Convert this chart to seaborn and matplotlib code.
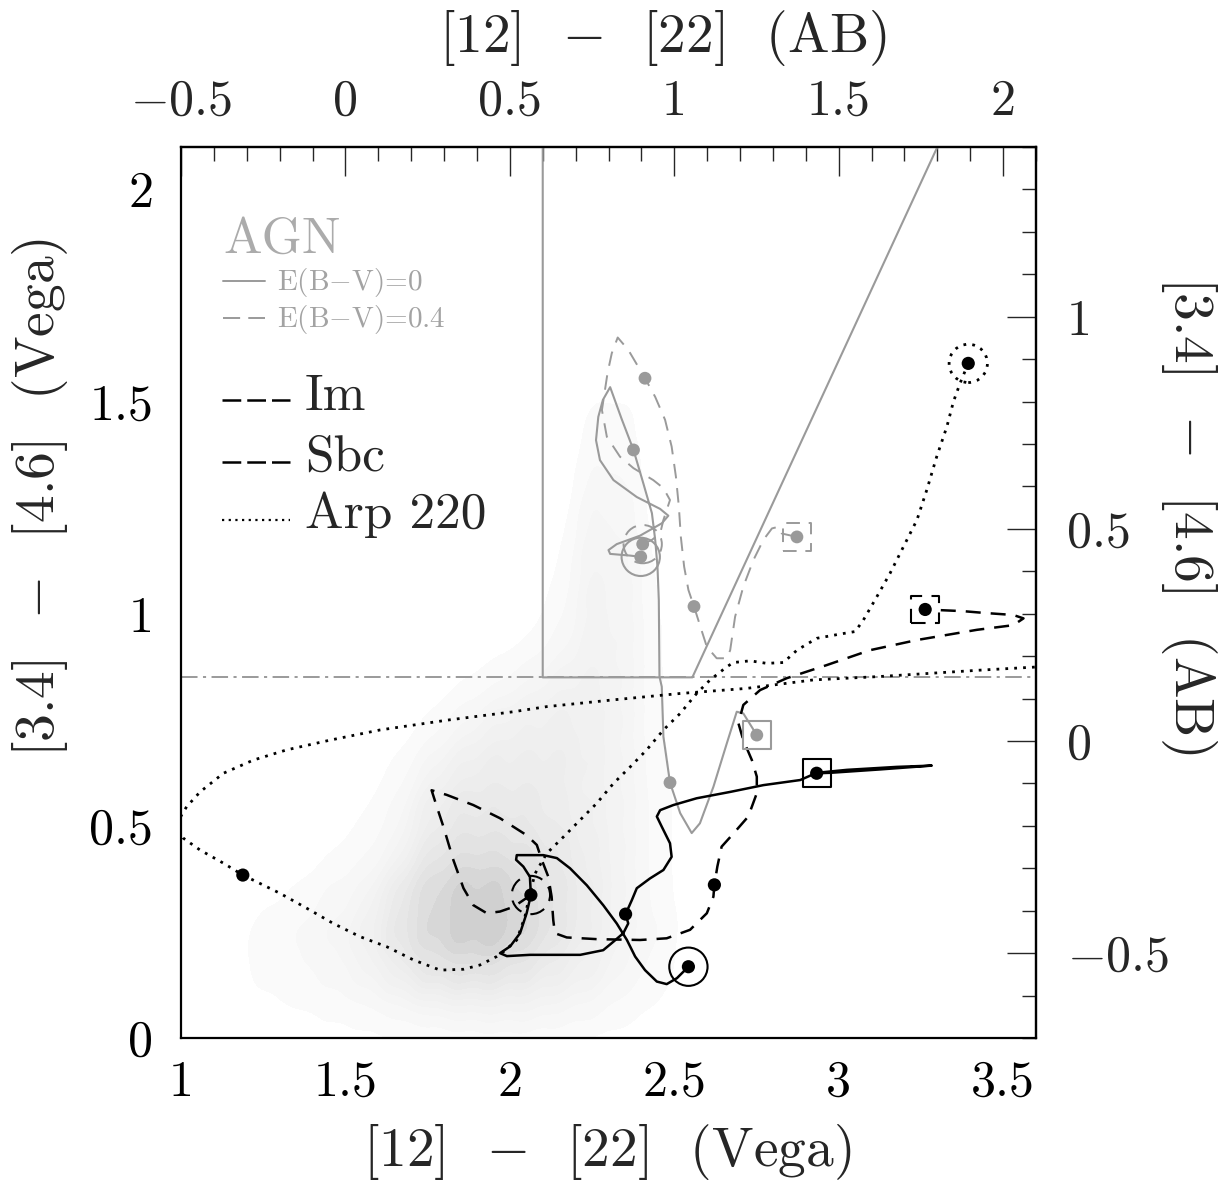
import numpy as np
import pandas as pd
import matplotlib
matplotlib.use("Agg")
import matplotlib.pyplot as plt
from matplotlib.colors import LinearSegmentedColormap
from matplotlib.ticker import MultipleLocator
import seaborn as sns

# ---------------- data ----------------
# AGN track, E(B-V)=0 (grey solid)
agn0_x = [2.398, 2.366, 2.305, 2.300, 2.325, 2.396, 2.462, 2.482, 2.457, 2.386, 2.315,
          2.274, 2.262, 2.269, 2.283, 2.305, 2.340, 2.376, 2.406, 2.432, 2.442, 2.449,
          2.453, 2.455, 2.462, 2.467, 2.487, 2.518, 2.553, 2.578, 2.619, 2.660, 2.690,
          2.710, 2.751]
agn0_y = [1.134, 1.137, 1.141, 1.150, 1.164, 1.184, 1.213, 1.231, 1.247, 1.275, 1.315,
          1.362, 1.409, 1.464, 1.504, 1.534, 1.459, 1.386, 1.307, 1.237, 1.174, 1.110,
          1.032, 0.852, 0.828, 0.710, 0.602, 0.530, 0.483, 0.506, 0.592, 0.695, 0.769,
          0.765, 0.714]
agn0_dots_x = [2.376, 2.487]
agn0_dots_y = [1.386, 0.602]

# AGN track, E(B-V)=0.4 (grey dashed)
agn4_x = [2.404, 2.432, 2.457, 2.467, 2.487, 2.467, 2.436, 2.376, 2.335, 2.295, 2.280,
          2.297, 2.310, 2.328, 2.360, 2.411, 2.442, 2.472, 2.492, 2.505, 2.514, 2.520,
          2.530, 2.543, 2.560, 2.578, 2.599, 2.629, 2.660, 2.670, 2.685, 2.710, 2.741,
          2.771, 2.797, 2.817, 2.827, 2.873]
agn4_y = [1.164, 1.174, 1.189, 1.221, 1.268, 1.296, 1.315, 1.343, 1.370, 1.417, 1.480,
          1.567, 1.614, 1.651, 1.622, 1.555, 1.511, 1.457, 1.394, 1.323, 1.252, 1.181,
          1.111, 1.056, 1.017, 0.973, 0.922, 0.895, 0.895, 0.914, 0.993, 1.064, 1.127,
          1.174, 1.201, 1.205, 1.189, 1.181]
agn4_dots_x = [2.411, 2.560]
agn4_dots_y = [1.555, 1.017]

# Im template track (black solid)
im_x = [2.543, 2.508, 2.477, 2.447, 2.411, 2.381, 2.356, 2.325, 2.284, 2.234, 2.183,
        2.143, 2.102, 2.021, 2.019, 2.041, 2.061, 2.064, 2.051, 2.031, 2.001, 1.970,
        1.991, 2.061, 2.214, 2.284, 2.315, 2.345, 2.360, 2.352, 2.371, 2.386, 2.426,
        2.467, 2.492, 2.487, 2.462, 2.447, 2.457, 2.497, 2.568, 2.670, 2.771, 2.883,
        2.933, 3.025, 3.177, 3.283, 3.126, 2.974, 2.933]
im_y = [0.168, 0.141, 0.127, 0.133, 0.160, 0.192, 0.231, 0.270, 0.313, 0.360, 0.400,
        0.424, 0.431, 0.431, 0.420, 0.404, 0.380, 0.337, 0.294, 0.247, 0.216, 0.200,
        0.193, 0.196, 0.196, 0.207, 0.227, 0.247, 0.270, 0.292, 0.325, 0.353, 0.376,
        0.396, 0.427, 0.459, 0.498, 0.522, 0.537, 0.549, 0.565, 0.580, 0.596, 0.608,
        0.625, 0.632, 0.639, 0.642, 0.633, 0.625, 0.624]
im_dots_x = [2.352]
im_dots_y = [0.292]

# Sbc template track (black dashed)
sbc_x = [2.064, 2.011, 1.970, 1.930, 1.889, 1.859, 1.828, 1.798, 1.778, 1.762, 1.808,
         1.889, 1.970, 2.051, 2.082, 2.097, 2.117, 2.127, 2.132, 2.137, 2.173, 2.264,
         2.396, 2.477, 2.548, 2.599, 2.619, 2.622, 2.631, 2.644, 2.680, 2.725, 2.751,
         2.751, 2.736, 2.710, 2.695, 2.710, 2.761, 2.842, 2.964, 3.095, 3.238, 3.420,
         3.531, 3.562, 3.531, 3.440, 3.379, 3.263]
sbc_y = [0.337, 0.309, 0.298, 0.294, 0.313, 0.353, 0.420, 0.498, 0.545, 0.584, 0.573,
         0.549, 0.518, 0.478, 0.455, 0.420, 0.380, 0.333, 0.278, 0.247, 0.237, 0.233,
         0.231, 0.235, 0.255, 0.294, 0.333, 0.361, 0.404, 0.451, 0.482, 0.522, 0.577,
         0.616, 0.655, 0.702, 0.742, 0.785, 0.820, 0.848, 0.879, 0.914, 0.938, 0.962,
         0.973, 0.989, 0.997, 1.002, 1.006, 1.010]
sbc_dots_x = [2.622]
sbc_dots_y = [0.361]

# Arp 220 template track (black dotted)
arp_x = [3.394, 3.369, 3.349, 3.329, 3.298, 3.268, 3.238, 3.197, 3.156, 3.116, 3.075,
         3.050, 3.004, 2.933, 2.873, 2.832, 2.781, 2.731, 2.680, 2.660, 2.609, 2.568,
         2.518, 2.467, 2.416, 2.366, 2.315, 2.264, 2.214, 2.163, 2.112, 2.077, 2.061,
         2.046, 2.021, 1.980, 1.960, 1.909, 1.859, 1.788, 1.707, 1.626, 1.544, 1.463,
         1.382, 1.301, 1.220, 1.188, 1.129, 1.058, 1.007, 0.985, 1.002, 1.017, 1.058,
         1.129, 1.220, 1.321, 1.453, 1.605, 1.808, 2.011, 2.112, 2.214, 2.315, 2.518,
         2.720, 2.923, 3.126, 3.430, 3.592, 3.640]
arp_y = [1.590, 1.543, 1.500, 1.441, 1.370, 1.292, 1.221, 1.158, 1.095, 1.040, 0.985,
         0.958, 0.952, 0.942, 0.914, 0.885, 0.883, 0.889, 0.885, 0.875, 0.844, 0.812,
         0.765, 0.726, 0.679, 0.639, 0.600, 0.553, 0.514, 0.474, 0.435, 0.388, 0.341,
         0.286, 0.231, 0.203, 0.192, 0.172, 0.162, 0.160, 0.184, 0.215, 0.239, 0.270,
         0.306, 0.341, 0.372, 0.384, 0.412, 0.443, 0.471, 0.500, 0.526, 0.545, 0.580,
         0.624, 0.655, 0.679, 0.702, 0.726, 0.749, 0.769, 0.781, 0.789, 0.797, 0.812,
         0.824, 0.844, 0.852, 0.867, 0.874, 0.877]
arp_dots_x = [1.188]
arp_dots_y = [0.384]

# AGN selection wedge and the horizontal cut
wedge_x = [2.10, 2.10, 2.555, 3.30]
wedge_y = [2.20, 0.85, 0.850, 2.10]
cut_y = 0.85

# Galaxy sample density (cell centres, relative weights)
cloud_xc = [1.05, 1.15, 1.25, 1.35, 1.45, 1.55, 1.65, 1.75, 1.85, 1.95, 2.05, 2.15,
            2.25, 2.35, 2.45, 2.55, 2.65]
cloud_yc = [0.05, 0.15, 0.25, 0.35, 0.45, 0.55, 0.65, 0.75, 0.85, 0.95, 1.05, 1.15,
            1.25, 1.35, 1.45, 1.55, 1.65]
cloud_w = [
    [0.0, 0.0, 0.2, 0.3, 0.4, 0.5, 0.7, 0.9, 1.1, 1.2, 1.2, 1.0, 0.8, 0.5, 0.3, 0.1, 0.0],
    [0.1, 0.3, 0.5, 0.7, 0.9, 1.3, 2.0, 3.0, 3.5, 3.5, 3.0, 2.4, 1.8, 1.1, 0.6, 0.2, 0.0],
    [0.1, 0.3, 0.5, 0.8, 1.2, 1.8, 3.2, 5.5, 7.5, 8.0, 5.5, 3.4, 2.4, 1.4, 0.8, 0.2, 0.0],
    [0.0, 0.1, 0.3, 0.4, 0.8, 1.2, 2.6, 5.0, 7.0, 7.0, 5.0, 3.4, 2.4, 1.4, 0.6, 0.1, 0.0],
    [0.0, 0.0, 0.0, 0.1, 0.3, 0.6, 1.2, 2.8, 4.0, 4.0, 3.5, 3.0, 2.2, 1.4, 0.6, 0.1, 0.0],
    [0.0, 0.0, 0.0, 0.0, 0.1, 0.3, 0.8, 2.2, 3.0, 3.0, 3.0, 2.5, 2.0, 1.4, 0.6, 0.1, 0.0],
    [0.0, 0.0, 0.0, 0.0, 0.0, 0.1, 0.4, 1.2, 2.0, 2.5, 2.5, 2.5, 2.0, 1.4, 0.5, 0.1, 0.0],
    [0.0, 0.0, 0.0, 0.0, 0.0, 0.0, 0.1, 0.4, 1.0, 1.6, 2.0, 2.2, 2.0, 1.4, 0.4, 0.0, 0.0],
    [0.0, 0.0, 0.0, 0.0, 0.0, 0.0, 0.0, 0.1, 0.3, 0.6, 1.0, 1.5, 1.8, 1.4, 0.4, 0.0, 0.0],
    [0.0, 0.0, 0.0, 0.0, 0.0, 0.0, 0.0, 0.0, 0.0, 0.1, 0.3, 0.8, 1.6, 1.4, 0.4, 0.0, 0.0],
    [0.0, 0.0, 0.0, 0.0, 0.0, 0.0, 0.0, 0.0, 0.0, 0.0, 0.1, 0.5, 1.6, 1.4, 0.3, 0.0, 0.0],
    [0.0, 0.0, 0.0, 0.0, 0.0, 0.0, 0.0, 0.0, 0.0, 0.0, 0.0, 0.3, 1.5, 1.2, 0.2, 0.0, 0.0],
    [0.0, 0.0, 0.0, 0.0, 0.0, 0.0, 0.0, 0.0, 0.0, 0.0, 0.0, 0.1, 1.2, 1.0, 0.1, 0.0, 0.0],
    [0.0, 0.0, 0.0, 0.0, 0.0, 0.0, 0.0, 0.0, 0.0, 0.0, 0.0, 0.0, 0.8, 0.7, 0.0, 0.0, 0.0],
    [0.0, 0.0, 0.0, 0.0, 0.0, 0.0, 0.0, 0.0, 0.0, 0.0, 0.0, 0.0, 0.5, 0.5, 0.0, 0.0, 0.0],
    [0.0, 0.0, 0.0, 0.0, 0.0, 0.0, 0.0, 0.0, 0.0, 0.0, 0.0, 0.0, 0.3, 0.3, 0.0, 0.0, 0.0],
    [0.0, 0.0, 0.0, 0.0, 0.0, 0.0, 0.0, 0.0, 0.0, 0.0, 0.0, 0.0, 0.1, 0.1, 0.0, 0.0, 0.0],
]

# axes: tick values and labels
x_ticks = [1.0, 1.5, 2.0, 2.5, 3.0, 3.5]
x_ticklabels = ["1", "1.5", "2", "2.5", "3", "3.5"]
y_ticks = [0.0, 0.5, 1.0, 1.5, 2.0]
y_ticklabels = ["0", "0.5", "1", "1.5", "2"]
top_ticks = [-0.5, 0.0, 0.5, 1.0, 1.5, 2.0]
top_ticklabels = [r"$-$0.5", "0", "0.5", "1", "1.5", "2"]
right_ticks = [-0.5, 0.0, 0.5, 1.0]
right_ticklabels = [r"$-$0.5", "0", "0.5", "1"]
x_ab_offset = 1.5
y_ab_offset = 0.7

# ---------------- style ----------------
sns.set_style("white")
plt.rcParams["font.family"] = ["cmr10", "DejaVu Serif"]
plt.rcParams["mathtext.fontset"] = "cm"
plt.rcParams["axes.unicode_minus"] = False

GREY = "#9a9a9a"
BLACK = "black"

fig = plt.figure(figsize=(12.28, 11.88), dpi=100, facecolor="white")
ax = fig.add_axes([181 / 1228, 150 / 1188, 855 / 1228, 891 / 1188])
ax.set_xlim(1.0, 3.6)
ax.set_ylim(0.0, 2.1)

# ---- galaxy cloud (faint) ----
gx, gy = np.meshgrid(cloud_xc, cloud_yc)
cloud = pd.DataFrame({"x": gx.ravel(), "y": gy.ravel(), "w": np.array(cloud_w).ravel()})
cloud = cloud[cloud["w"] > 0]
cloud_cmap = LinearSegmentedColormap.from_list("cloud", ["#fbfbfb", "#cdcdcd"])
sns.kdeplot(data=cloud, x="x", y="y", weights="w", fill=True, bw_adjust=0.36,
            levels=14, thresh=0.05, cmap=cloud_cmap, ax=ax, zorder=0)

# ---- selection lines ----
ax.axhline(cut_y, color=GREY, lw=1.4, linestyle=(0, (8.5, 2.8, 1.6, 2.8)), zorder=1)
sns.lineplot(x=wedge_x, y=wedge_y, sort=False, estimator=None, color=GREY, lw=1.5, ax=ax,
             zorder=2)

# ---- tracks ----
track_specs = [
    (agn0_x, agn0_y, GREY, 1.5, "-"),
    (agn4_x, agn4_y, GREY, 1.4, (0, (7.5, 5.0))),
    (im_x, im_y, BLACK, 1.8, "-"),
    (sbc_x, sbc_y, BLACK, 1.8, (0, (6.0, 4.0))),
    (arp_x, arp_y, BLACK, 2.0, (0, (1.0, 2.2))),
]
for tx, ty, col, lw, ls in track_specs:
    sns.lineplot(x=tx, y=ty, sort=False, estimator=None, color=col, lw=lw,
                 linestyle=ls, ax=ax, zorder=3)

# ---- redshift dots ----
grey_dx = [agn0_x[0], agn0_x[-1], agn4_x[0], agn4_x[-1]] + agn0_dots_x + agn4_dots_x
grey_dy = [agn0_y[0], agn0_y[-1], agn4_y[0], agn4_y[-1]] + agn0_dots_y + agn4_dots_y
sns.scatterplot(x=grey_dx, y=grey_dy, s=85, color=GREY, edgecolor="none", linewidth=0,
                ax=ax, zorder=5)
black_dx = [im_x[0], im_x[-1], sbc_x[0], sbc_x[-1], arp_x[0]] + im_dots_x + sbc_dots_x + arp_dots_x
black_dy = [im_y[0], im_y[-1], sbc_y[0], sbc_y[-1], arp_y[0]] + im_dots_y + sbc_dots_y + arp_dots_y
sns.scatterplot(x=black_dx, y=black_dy, s=90, color=BLACK, edgecolor="none", linewidth=0,
                ax=ax, zorder=5)

# ---- start (circle) / end (square) markers ----
def hollow(x, y, marker, size, col, ls, lw=1.5):
    ax.scatter([x], [y], s=size, marker=marker, facecolors="none", edgecolors=col,
               linewidths=lw, linestyles=ls, zorder=6)

CIRC = 760
SQR = 400
hollow(agn0_x[0], agn0_y[0], "o", CIRC, GREY, "-")
hollow(agn0_x[-1], agn0_y[-1], "s", SQR, GREY, "-")
hollow(agn4_x[0], agn4_y[0], "o", CIRC, GREY, (0, (7, 4.5)), 1.4)
hollow(agn4_x[-1], agn4_y[-1], "s", SQR, GREY, (0, (7, 4.5)), 1.4)
hollow(im_x[0], im_y[0], "o", CIRC, BLACK, "-")
hollow(im_x[-1], im_y[-1], "s", SQR, BLACK, "-")
hollow(sbc_x[0], sbc_y[0], "o", CIRC, BLACK, (0, (7, 4.5)))
hollow(sbc_x[-1], sbc_y[-1], "s", SQR, BLACK, (0, (7, 4.5)))
hollow(arp_x[0], arp_y[0], "o", CIRC, BLACK, (0, (1, 2.2)), 2.0)

# ---- axes, ticks ----
ax.set_xticks(x_ticks)
ax.set_xticklabels(x_ticklabels)
ax.set_yticks(y_ticks)
ax.set_yticklabels(y_ticklabels)
ax.xaxis.set_minor_locator(MultipleLocator(0.1))
ax.yaxis.set_minor_locator(MultipleLocator(0.1))
ax.set_xlabel("")
ax.set_ylabel("")
for sp in ax.spines.values():
    sp.set_linewidth(1.6)
    sp.set_color("black")
ax.tick_params(which="both", direction="in", top=False, right=False, colors="black",
               labelsize=36, width=1.0)
ax.tick_params(which="major", length=21)
ax.tick_params(which="minor", length=10)
ax.tick_params(axis="x", pad=16)
ax.tick_params(axis="y", pad=20)

secx = ax.secondary_xaxis("top", functions=(lambda v: v - x_ab_offset, lambda v: v + x_ab_offset))
secx.set_xticks(top_ticks)
secx.set_xticklabels(top_ticklabels)
secx.xaxis.set_minor_locator(MultipleLocator(0.1))
secx.tick_params(which="both", direction="in", labelsize=36, width=1.0, pad=16)
secx.tick_params(which="major", length=21)
secx.tick_params(which="minor", length=10)

secy = ax.secondary_yaxis("right", functions=(lambda v: v - y_ab_offset, lambda v: v + y_ab_offset))
secy.set_yticks(right_ticks)
secy.set_yticklabels(right_ticklabels)
secy.yaxis.set_minor_locator(MultipleLocator(0.1))
secy.tick_params(which="both", direction="in", labelsize=36, width=1.0, pad=22)
secy.tick_params(which="major", length=21)
secy.tick_params(which="minor", length=10)
for s in (secx, secy):
    for sp in s.spines.values():
        sp.set_linewidth(1.6)

# ---- axis titles ----
LAB = 40
ax.text(0.498, -0.128, r"[12]  $-$  [22]  (Vega)", transform=ax.transAxes, ha="center",
        va="center", fontsize=LAB)
ax.text(0.563, 1.122, r"[12]  $-$  [22]  (AB)", transform=ax.transAxes, ha="center",
        va="center", fontsize=LAB)
ax.text(-0.165, 0.607, r"[3.4]  $-$  [4.6]  (Vega)", transform=ax.transAxes, ha="center",
        va="center", rotation=90, fontsize=LAB)
ax.text(1.179, 0.587, r"[3.4]  $-$  [4.6]  (AB)", transform=ax.transAxes, ha="center",
        va="center", rotation=270, fontsize=LAB)

# ---- legend (manual, as in the original) ----
T = ax.transAxes
ax.text(0.049, 0.881, "AGN", transform=T, color="#ababab", fontsize=37, ha="left",
        va="baseline")
ax.plot([0.049, 0.098], [0.850, 0.850], transform=T, color=GREY, lw=1.4)
ax.text(0.112, 0.848, r"E(B$-$V)=0", transform=T, color="#a3a3a3", fontsize=21,
        ha="left", va="center")
ax.plot([0.049, 0.098], [0.808, 0.808], transform=T, color=GREY, lw=1.4,
        linestyle=(0, (8.8, 4.2)))
ax.text(0.112, 0.806, r"E(B$-$V)=0.4", transform=T, color="#a3a3a3", fontsize=21,
        ha="left", va="center")
ax.plot([0.048, 0.128], [0.716, 0.716], transform=T, color=BLACK, lw=1.8,
        linestyle=(0, (7.5, 2.4)))
ax.text(0.145, 0.719, "Im", transform=T, fontsize=37, ha="left", va="center")
ax.plot([0.048, 0.128], [0.646, 0.646], transform=T, color=BLACK, lw=1.8,
        linestyle=(0, (7.5, 2.4)))
ax.text(0.145, 0.651, "Sbc", transform=T, fontsize=37, ha="left", va="center")
ax.plot([0.048, 0.128], [0.581, 0.581], transform=T, color=BLACK, lw=1.6,
        linestyle=(0, (1.0, 2.0)))
ax.text(0.145, 0.587, "Arp 220", transform=T, fontsize=37, ha="left", va="center")

fig.savefig("out.png", dpi=100, facecolor="white")
